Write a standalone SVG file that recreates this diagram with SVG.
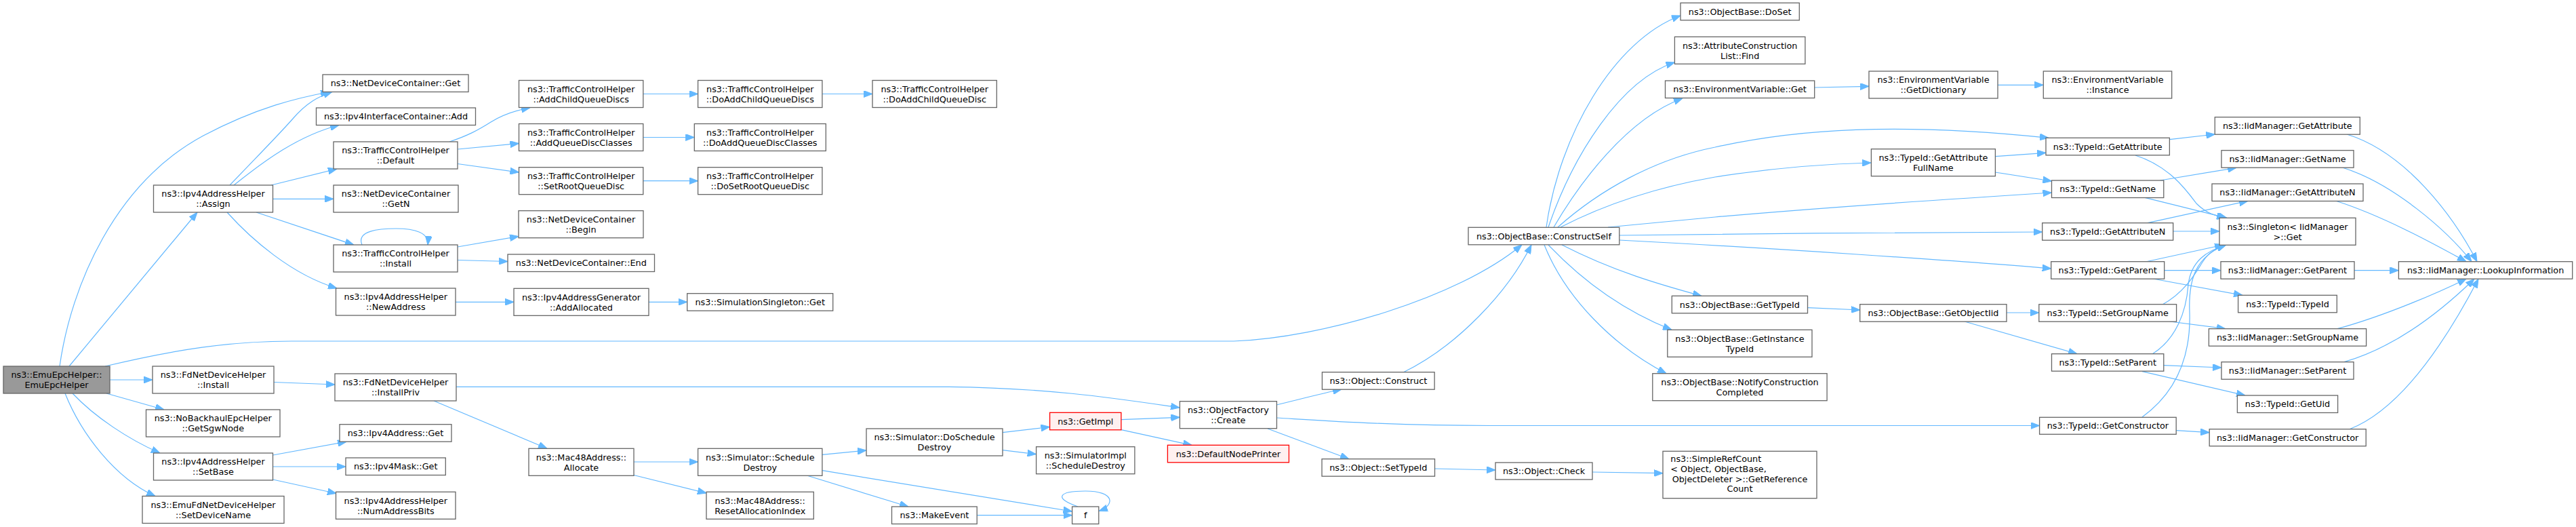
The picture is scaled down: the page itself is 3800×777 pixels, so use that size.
<svg xmlns="http://www.w3.org/2000/svg" width="3800" height="777" viewBox="0 0 3800 777">
<defs>
<marker id="a" markerUnits="userSpaceOnUse" markerWidth="13" markerHeight="10" viewBox="0 0 13 10" refX="13" refY="5" orient="auto">
<path d="M0,0 L13,5 L0,10 z" fill="#63B8FF" stroke="#63B8FF"/>
</marker>
</defs>
<style>
.n rect{fill:#ffffff;stroke:#666666;stroke-width:1.3}
.m rect{fill:#999999;stroke:#666666;stroke-width:1.3}
.r rect{fill:#FFF0F0;stroke:#FF0000;stroke-width:1.3}
text{font-family:"DejaVu Sans","Liberation Sans",sans-serif;font-size:12.8px;text-anchor:middle;fill:#000000}
.e path{fill:none;stroke:#63B8FF;stroke-width:1.2;marker-end:url(#a)}
</style>
<rect width="3800" height="777" fill="#ffffff"/>
<g class="e" id="edges">
<path d="M88,540 C105,420 170,270 300,200 C380,158 440,144 486,135.5"/>
<path d="M102,540 L291,313"/>
<path d="M155,540 C260,515 340,503 430,503 L1820,503 C1950,498 2150,440 2245,361"/>
<path d="M162,560 L225,560"/>
<path d="M157,580 L242,604"/>
<path d="M107,580 C140,615 190,648 236,668"/>
<path d="M96,580 C120,640 170,705 229,731.5"/>
<path d="M339,273 C380,230 410,200 432,175 C452,152 470,142 490,135.5"/>
<path d="M345,273 C390,237 440,200 500,184.5"/>
<path d="M400,273 L497,249"/>
<path d="M402.5,293.3 L492,293.3"/>
<path d="M378,313 L522,361"/>
<path d="M335,313 C370,352 430,405 497,425"/>
<path d="M534,361 C525,340 560,337 584,337 C612,337 633,343 631,361"/>
<path d="M663,209 C690,200 705,192 724,180 C740,170 760,163 782,158.7"/>
<path d="M675,220 L765.5,211.5"/>
<path d="M675,241.5 L765.5,254"/>
<path d="M949,138.5 L1029.6,138.5"/>
<path d="M1213,138.5 L1287,138.5"/>
<path d="M949,202.5 L1024.3,202.5"/>
<path d="M949,266.7 L1029.6,266.7"/>
<path d="M675,364 L765,348.5"/>
<path d="M675,383.5 L749,385.5"/>
<path d="M672,445.3 L758,445.3"/>
<path d="M957,445.3 L1013.7,445.3"/>
<path d="M404,563.5 L494,567"/>
<path d="M673,570.3 L1400,570.3 C1550,572 1650,588 1740,601"/>
<path d="M640,591 L807,661.3"/>
<path d="M402.5,671 L511,651.3"/>
<path d="M402.5,688 L510,688"/>
<path d="M402.5,707 L496,727.5"/>
<path d="M935,681 L1029.6,681"/>
<path d="M935,700.5 L1042,727"/>
<path d="M1213,670.3 L1278,664"/>
<path d="M1213,693.7 L1581.6,754"/>
<path d="M1191,701.3 L1340,747"/>
<path d="M1479,637.7 L1548.6,629.5"/>
<path d="M1479,663.7 L1528.6,669.7"/>
<path d="M1654,618.7 L1740.4,615.3"/>
<path d="M1654,633.7 L1758,656.3"/>
<path d="M1441,759.7 L1581.6,759.7"/>
<path d="M1590,747 C1555,735 1560,724 1601,724 C1645,724 1645,745 1621,753.5"/>
<path d="M1883,597 C1920,588 1950,580 1979,574"/>
<path d="M1883,616 C1950,620 2050,627.5 2200,627.5 L3008.6,627.5"/>
<path d="M1870,632 L1990,676.7"/>
<path d="M2070,549 C2150,510 2225,430 2259,361"/>
<path d="M2116.5,691 L2206,693"/>
<path d="M2349,696 L2453,697.7"/>
<path d="M2281,335 C2300,200 2380,60 2479,23"/>
<path d="M2284,335 C2320,230 2390,118 2470.4,92"/>
<path d="M2292,335 C2330,270 2400,175 2482,145"/>
<path d="M2298,335 C2360,280 2440,235 2530,217 C2650,190 2800,180 3022,203.3"/>
<path d="M2302,335 C2370,300 2450,275 2530,261 C2600,250 2680,242 2760,240"/>
<path d="M2372,335 L2530,320 C2700,305 2900,292 3026.5,284"/>
<path d="M2389,347 C2600,345 2800,342 3012.7,342"/>
<path d="M2389,354 C2600,365 2900,385 3025.7,396"/>
<path d="M2304,361 C2380,400 2450,420 2510,436.3"/>
<path d="M2284,361 C2340,420 2400,460 2466,486.3"/>
<path d="M2278,361 C2310,440 2380,510 2458,550.7"/>
<path d="M2666.5,453.7 L2743.7,457"/>
<path d="M2960,461 L3007.8,461"/>
<path d="M2898,474 L3064,521.7"/>
<path d="M2676.7,129 L2757,127.3"/>
<path d="M2947,125.3 L3014.3,125.3"/>
<path d="M2943.3,230.7 L3018,225.3"/>
<path d="M2943.3,254 L3026.5,267"/>
<path d="M3200.4,205.7 L3267.3,198"/>
<path d="M3150,229 C3200,245 3225,280 3240,300 C3255,315 3268,318 3283,321.3"/>
<path d="M3186.5,266 L3299,247.3"/>
<path d="M3164,291.3 L3285,321.3"/>
<path d="M3168,328.7 L3316,296.3"/>
<path d="M3205.7,341 L3274,341"/>
<path d="M3192.7,398.7 L3276,398.7"/>
<path d="M3176,411 L3308,435.3"/>
<path d="M3165,386 L3280,361"/>
<path d="M3200.8,474 L3283,484.7"/>
<path d="M3190,449 C3225,430 3240,400 3250,385 C3258,372 3270,366 3284,361"/>
<path d="M3191.8,538.7 L3277,542"/>
<path d="M3160,547.7 L3312,583"/>
<path d="M3175,522 C3210,500 3225,460 3228,420 C3232,385 3255,370 3284,361"/>
<path d="M3210.2,634.7 L3259.2,637.7"/>
<path d="M3160,615 C3215,575 3232,520 3230,460 C3228,410 3240,378 3283,361"/>
<path d="M3462,198 C3550,225 3620,320 3654,385.7"/>
<path d="M3456,247.3 C3530,270 3610,340 3646,385.7"/>
<path d="M3446,296.3 C3520,320 3600,365 3638,385.7"/>
<path d="M3473,398.7 L3538.4,398.7"/>
<path d="M3448,484.7 C3520,465 3600,430 3638,411.2"/>
<path d="M3458,533.7 C3540,510 3610,450 3650,411.2"/>
<path d="M3466,632.7 C3550,600 3620,480 3656,411.2"/>
</g>
<g id="emu" class="m"><rect x="5" y="540" width="157" height="40"/><text x="83.5" y="557.2">ns3::EmuEpcHelper::</text><text x="83.5" y="572.2">EmuEpcHelper</text></g>
<g id="ndcGet" class="n"><rect x="476" y="110" width="215" height="25.5"/><text x="583.5" y="127.3">ns3::NetDeviceContainer::Get</text></g>
<g id="ificAdd" class="n"><rect x="466.5" y="159" width="235" height="25.5"/><text x="584" y="176.3">ns3::Ipv4InterfaceContainer::Add</text></g>
<g id="tchDefault" class="n"><rect x="492" y="209" width="183" height="40"/><text x="583.5" y="226.2">ns3::TrafficControlHelper</text><text x="583.5" y="241.2">::Default</text></g>
<g id="ndcGetN" class="n"><rect x="492" y="273" width="184" height="40"/><text x="584" y="290.2">ns3::NetDeviceContainer</text><text x="584" y="305.2">::GetN</text></g>
<g id="tchInstall" class="n"><rect x="492" y="361" width="183" height="40"/><text x="583.5" y="378.2">ns3::TrafficControlHelper</text><text x="583.5" y="393.2">::Install</text></g>
<g id="assign" class="n"><rect x="226.5" y="273" width="176" height="40"/><text x="314.5" y="290.2">ns3::Ipv4AddressHelper</text><text x="314.5" y="305.2">::Assign</text></g>
<g id="newAddr" class="n"><rect x="495.5" y="425" width="176.5" height="40"/><text x="583.8" y="442.2">ns3::Ipv4AddressHelper</text><text x="583.8" y="457.2">::NewAddress</text></g>
<g id="fdInstall" class="n"><rect x="225" y="540" width="179" height="40"/><text x="314.5" y="557.2">ns3::FdNetDeviceHelper</text><text x="314.5" y="572.2">::Install</text></g>
<g id="installPriv" class="n"><rect x="494" y="551" width="179" height="40"/><text x="583.5" y="568.2">ns3::FdNetDeviceHelper</text><text x="583.5" y="583.2">::InstallPriv</text></g>
<g id="getSgw" class="n"><rect x="215.5" y="604" width="197.5" height="40"/><text x="314.3" y="621.2">ns3::NoBackhaulEpcHelper</text><text x="314.3" y="636.2">::GetSgwNode</text></g>
<g id="ipv4AddrGet" class="n"><rect x="501" y="625.7" width="165" height="25.5"/><text x="583.5" y="643">ns3::Ipv4Address::Get</text></g>
<g id="maskGet" class="n"><rect x="510" y="675" width="147.3" height="25.5"/><text x="583.7" y="692.3">ns3::Ipv4Mask::Get</text></g>
<g id="setBase" class="n"><rect x="226.5" y="668" width="176" height="40"/><text x="314.5" y="685.2">ns3::Ipv4AddressHelper</text><text x="314.5" y="700.2">::SetBase</text></g>
<g id="numBits" class="n"><rect x="495.5" y="725.3" width="176.5" height="40"/><text x="583.8" y="742.5">ns3::Ipv4AddressHelper</text><text x="583.8" y="757.5">::NumAddressBits</text></g>
<g id="setDevName" class="n"><rect x="210" y="731.5" width="209" height="40"/><text x="314.5" y="748.7">ns3::EmuFdNetDeviceHelper</text><text x="314.5" y="763.7">::SetDeviceName</text></g>
<g id="addChild" class="n"><rect x="765.5" y="118.5" width="183.3" height="40"/><text x="857.2" y="135.7">ns3::TrafficControlHelper</text><text x="857.2" y="150.7">::AddChildQueueDiscs</text></g>
<g id="doAddChildDiscs" class="n"><rect x="1029.6" y="118.5" width="183.3" height="40"/><text x="1121.3" y="135.7">ns3::TrafficControlHelper</text><text x="1121.3" y="150.7">::DoAddChildQueueDiscs</text></g>
<g id="addQDC" class="n"><rect x="765.5" y="182.5" width="183.3" height="40"/><text x="857.2" y="199.7">ns3::TrafficControlHelper</text><text x="857.2" y="214.7">::AddQueueDiscClasses</text></g>
<g id="doAddQDC" class="n"><rect x="1024.3" y="182.5" width="194" height="40"/><text x="1121.3" y="199.7">ns3::TrafficControlHelper</text><text x="1121.3" y="214.7">::DoAddQueueDiscClasses</text></g>
<g id="setRoot" class="n"><rect x="765.5" y="246.7" width="183.3" height="40"/><text x="857.2" y="263.9">ns3::TrafficControlHelper</text><text x="857.2" y="278.9">::SetRootQueueDisc</text></g>
<g id="doSetRoot" class="n"><rect x="1029.6" y="246.7" width="183.3" height="40"/><text x="1121.3" y="263.9">ns3::TrafficControlHelper</text><text x="1121.3" y="278.9">::DoSetRootQueueDisc</text></g>
<g id="ndcBegin" class="n"><rect x="765" y="310.7" width="184" height="40"/><text x="857" y="327.9">ns3::NetDeviceContainer</text><text x="857" y="342.9">::Begin</text></g>
<g id="ndcEnd" class="n"><rect x="749" y="375" width="216.5" height="25.5"/><text x="857.3" y="392.3">ns3::NetDeviceContainer::End</text></g>
<g id="doAddChildDisc" class="n"><rect x="1287" y="118.5" width="183.3" height="40"/><text x="1378.7" y="135.7">ns3::TrafficControlHelper</text><text x="1378.7" y="150.7">::DoAddChildQueueDisc</text></g>
<g id="addAlloc" class="n"><rect x="758" y="425.3" width="199" height="40"/><text x="857.5" y="442.5">ns3::Ipv4AddressGenerator</text><text x="857.5" y="457.5">::AddAllocated</text></g>
<g id="simSingGet" class="n"><rect x="1013.7" y="432.7" width="215" height="25.5"/><text x="1121.2" y="450">ns3::SimulationSingleton::Get</text></g>
<g id="macAlloc" class="n"><rect x="780" y="661.3" width="155" height="40"/><text x="857.5" y="678.5">ns3::Mac48Address::</text><text x="857.5" y="693.5">Allocate</text></g>
<g id="schedDestroy" class="n"><rect x="1029.6" y="661.3" width="183.3" height="40"/><text x="1121.3" y="678.5">ns3::Simulator::Schedule</text><text x="1121.3" y="693.5">Destroy</text></g>
<g id="resetAlloc" class="n"><rect x="1042" y="725.3" width="158.3" height="40"/><text x="1121.2" y="742.5">ns3::Mac48Address::</text><text x="1121.2" y="757.5">ResetAllocationIndex</text></g>
<g id="doSchedDestroy" class="n"><rect x="1278" y="632" width="201" height="40"/><text x="1378.5" y="649.2">ns3::Simulator::DoSchedule</text><text x="1378.5" y="664.2">Destroy</text></g>
<g id="getImpl" class="r"><rect x="1548.6" y="608.3" width="105.3" height="25.5"/><text x="1601.3" y="625.5">ns3::GetImpl</text></g>
<g id="simImplSched" class="n"><rect x="1528.6" y="658.7" width="145.3" height="40"/><text x="1601.3" y="675.9">ns3::SimulatorImpl</text><text x="1601.3" y="690.9">::ScheduleDestroy</text></g>
<g id="ofCreate" class="n"><rect x="1740.4" y="591.7" width="143" height="40"/><text x="1811.9" y="608.9">ns3::ObjectFactory</text><text x="1811.9" y="623.9">::Create</text></g>
<g id="defaultNodePrinter" class="r"><rect x="1722.4" y="656.3" width="179" height="25.5"/><text x="1811.9" y="673.5">ns3::DefaultNodePrinter</text></g>
<g id="makeEvent" class="n"><rect x="1315.5" y="747" width="125.7" height="25.5"/><text x="1378.4" y="764.2">ns3::MakeEvent</text></g>
<g id="f" class="n"><rect x="1581.6" y="747" width="39.2" height="25.5"/><text x="1601.2" y="764.2">f</text></g>
<g id="constructSelf" class="n"><rect x="2166" y="335.3" width="222.8" height="25.5"/><text x="2277.4" y="352.5">ns3::ObjectBase::ConstructSelf</text></g>
<g id="doSet" class="n"><rect x="2479" y="4.3" width="175.3" height="25.5"/><text x="2566.7" y="21.5">ns3::ObjectBase::DoSet</text></g>
<g id="acFind" class="n"><rect x="2470.4" y="54.3" width="192.5" height="40"/><text x="2566.7" y="71.5">ns3::AttributeConstruction</text><text x="2566.7" y="86.5">List::Find</text></g>
<g id="envGet" class="n"><rect x="2456.5" y="119" width="220.2" height="25.5"/><text x="2566.6" y="136.2">ns3::EnvironmentVariable::Get</text></g>
<g id="objConstruct" class="n"><rect x="1950.4" y="548.7" width="165.7" height="25.5"/><text x="2033.3" y="565.9">ns3::Object::Construct</text></g>
<g id="objSetTypeId" class="n"><rect x="1950" y="676.7" width="166.5" height="25.5"/><text x="2033.3" y="693.9">ns3::Object::SetTypeId</text></g>
<g id="objCheck" class="n"><rect x="2206" y="682" width="143" height="25"/><text x="2277.5" y="699.2">ns3::Object::Check</text></g>
<g id="simpleRefCount" class="n"><rect x="2453" y="665.3" width="227" height="69.4"/><text x="2464.3" y="681.3" style="text-anchor:start">ns3::SimpleRefCount</text><text x="2464.3" y="696" style="text-anchor:start">&lt; Object, ObjectBase,</text><text x="2566.5" y="711">ObjectDeleter &gt;::GetReference</text><text x="2566.5" y="725">Count</text></g>
<g id="obGetTypeId" class="n"><rect x="2466.3" y="436.3" width="200.2" height="25.5"/><text x="2566.4" y="453.5">ns3::ObjectBase::GetTypeId</text></g>
<g id="obGetInstance" class="n"><rect x="2459.8" y="486.3" width="213.2" height="40"/><text x="2566.4" y="503.5">ns3::ObjectBase::GetInstance</text><text x="2566.4" y="518.5">TypeId</text></g>
<g id="obNotify" class="n"><rect x="2437.8" y="550.7" width="257.3" height="40"/><text x="2566.5" y="567.9">ns3::ObjectBase::NotifyConstruction</text><text x="2566.5" y="582.9">Completed</text></g>
<g id="envDict" class="n"><rect x="2757" y="105" width="190" height="40"/><text x="2852" y="122.2">ns3::EnvironmentVariable</text><text x="2852" y="137.2">::GetDictionary</text></g>
<g id="envInstance" class="n"><rect x="3014.3" y="105" width="189.4" height="40"/><text x="3109" y="122.2">ns3::EnvironmentVariable</text><text x="3109" y="137.2">::Instance</text></g>
<g id="tidGetAttrFull" class="n"><rect x="2760.4" y="219.7" width="183" height="40"/><text x="2851.9" y="236.9">ns3::TypeId::GetAttribute</text><text x="2851.9" y="251.9">FullName</text></g>
<g id="tidGetAttr" class="n"><rect x="3018" y="203.3" width="182.4" height="25.5"/><text x="3109.2" y="220.5">ns3::TypeId::GetAttribute</text></g>
<g id="tidGetName" class="n"><rect x="3026.5" y="266" width="165.3" height="25.5"/><text x="3109.2" y="283.2">ns3::TypeId::GetName</text></g>
<g id="tidGetAttrN" class="n"><rect x="3012.7" y="328.7" width="193" height="25.5"/><text x="3109.2" y="345.9">ns3::TypeId::GetAttributeN</text></g>
<g id="tidGetParent" class="n"><rect x="3025.7" y="385.7" width="167" height="25.5"/><text x="3109.2" y="402.9">ns3::TypeId::GetParent</text></g>
<g id="obGetObjectIid" class="n"><rect x="2743.7" y="448.7" width="216.3" height="25.5"/><text x="2851.9" y="465.9">ns3::ObjectBase::GetObjectIid</text></g>
<g id="tidSetGroupName" class="n"><rect x="3007.8" y="448.7" width="202.8" height="25.5"/><text x="3109.2" y="465.9">ns3::TypeId::SetGroupName</text></g>
<g id="tidSetParent" class="n"><rect x="3026.5" y="521.7" width="165.3" height="25.5"/><text x="3109.2" y="538.9">ns3::TypeId::SetParent</text></g>
<g id="tidGetConstructor" class="n"><rect x="3008.6" y="615.3" width="201.6" height="25"/><text x="3109.4" y="632.3">ns3::TypeId::GetConstructor</text></g>
<g id="iidGetAttr" class="n"><rect x="3267.3" y="172.7" width="214" height="25.5"/><text x="3374.3" y="189.9">ns3::IidManager::GetAttribute</text></g>
<g id="iidGetName" class="n"><rect x="3277" y="221.7" width="195" height="25.5"/><text x="3374.5" y="238.9">ns3::IidManager::GetName</text></g>
<g id="iidGetAttrN" class="n"><rect x="3263" y="271" width="223" height="25.5"/><text x="3374.5" y="288.2">ns3::IidManager::GetAttributeN</text></g>
<g id="singletonGet" class="n"><rect x="3274" y="321.3" width="201" height="40"/><text x="3374.5" y="338.5">ns3::Singleton&lt; IidManager</text><text x="3374.5" y="353.5">&gt;::Get</text></g>
<g id="iidGetParent" class="n"><rect x="3276" y="385.7" width="197" height="25.5"/><text x="3374.5" y="402.9">ns3::IidManager::GetParent</text></g>
<g id="lookup" class="n"><rect x="3538.4" y="385.7" width="256.3" height="25.5"/><text x="3666.6" y="402.9">ns3::IidManager::LookupInformation</text></g>
<g id="tidTypeId" class="n"><rect x="3301.6" y="435.3" width="145.7" height="25.5"/><text x="3374.5" y="452.5">ns3::TypeId::TypeId</text></g>
<g id="iidSetGroupName" class="n"><rect x="3258.4" y="484.7" width="232.2" height="25.5"/><text x="3374.5" y="501.9">ns3::IidManager::SetGroupName</text></g>
<g id="iidSetParent" class="n"><rect x="3277" y="533.7" width="195" height="25.5"/><text x="3374.5" y="550.9">ns3::IidManager::SetParent</text></g>
<g id="tidGetUid" class="n"><rect x="3300.4" y="583" width="148.2" height="25.5"/><text x="3374.5" y="600.2">ns3::TypeId::GetUid</text></g>
<g id="iidGetConstructor" class="n"><rect x="3259.2" y="632.7" width="231" height="25"/><text x="3374.7" y="649.7">ns3::IidManager::GetConstructor</text></g>
</svg>
